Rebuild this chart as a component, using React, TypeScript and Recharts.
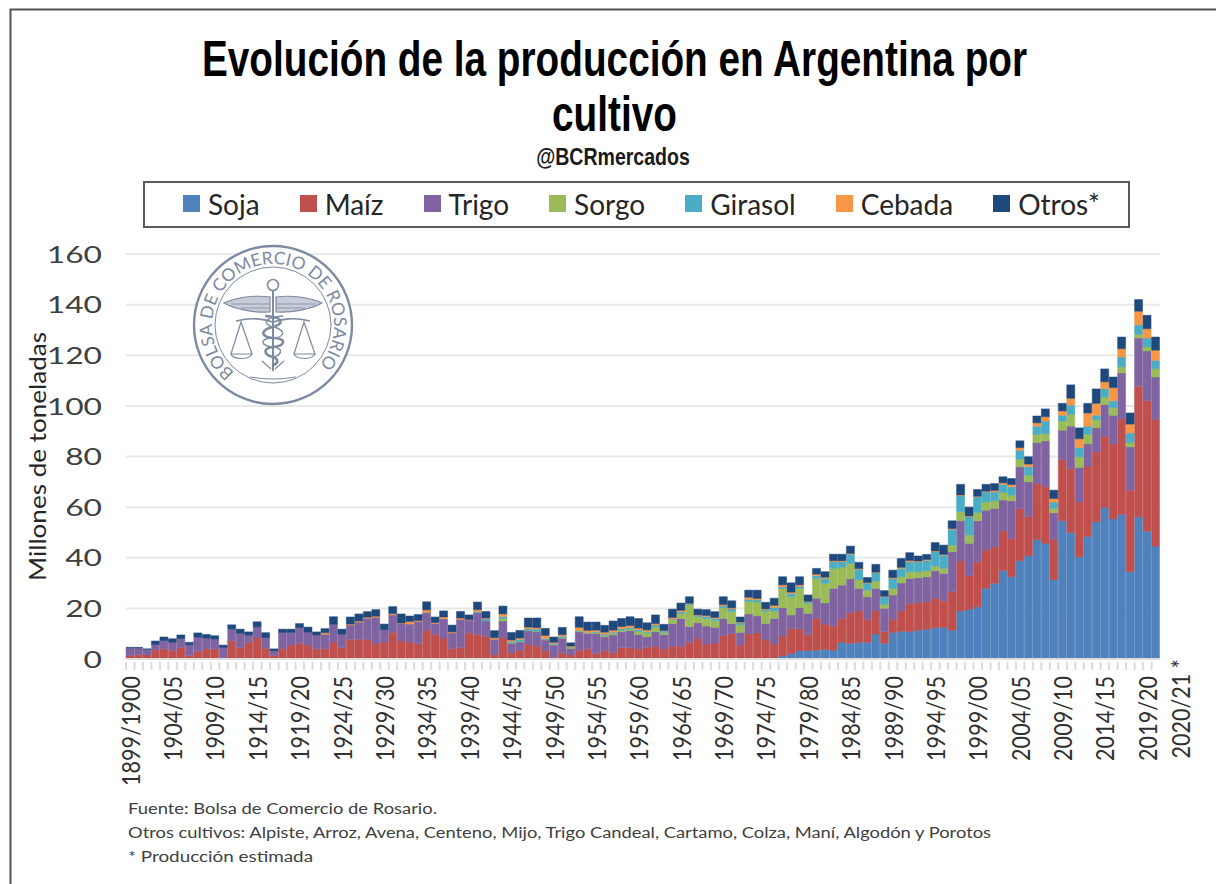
import { BarChart, Bar, XAxis, YAxis, CartesianGrid, Legend } from 'recharts'

const campaigns = [
  '1899/1900', '1900/01', '1901/02', '1902/03', '1903/04', '1904/05', '1905/06', '1906/07', '1907/08', '1908/09',
  '1909/10', '1910/11', '1911/12', '1912/13', '1913/14', '1914/15', '1915/16', '1916/17', '1917/18', '1918/19',
  '1919/20', '1920/21', '1921/22', '1922/23', '1923/24', '1924/25', '1925/26', '1926/27', '1927/28', '1928/29',
  '1929/30', '1930/31', '1931/32', '1932/33', '1933/34', '1934/35', '1935/36', '1936/37', '1937/38', '1938/39',
  '1939/40', '1940/41', '1941/42', '1942/43', '1943/44', '1944/45', '1945/46', '1946/47', '1947/48', '1948/49',
  '1949/50', '1950/51', '1951/52', '1952/53', '1953/54', '1954/55', '1955/56', '1956/57', '1957/58', '1958/59',
  '1959/60', '1960/61', '1961/62', '1962/63', '1963/64', '1964/65', '1965/66', '1966/67', '1967/68', '1968/69',
  '1969/70', '1970/71', '1971/72', '1972/73', '1973/74', '1974/75', '1975/76', '1976/77', '1977/78', '1978/79',
  '1979/80', '1980/81', '1981/82', '1982/83', '1983/84', '1984/85', '1985/86', '1986/87', '1987/88', '1988/89',
  '1989/90', '1990/91', '1991/92', '1992/93', '1993/94', '1994/95', '1995/96', '1996/97', '1997/98', '1998/99',
  '1999/00', '2000/01', '2001/02', '2002/03', '2003/04', '2004/05', '2005/06', '2006/07', '2007/08', '2008/09',
  '2009/10', '2010/11', '2011/12', '2012/13', '2013/14', '2014/15', '2015/16', '2016/17', '2017/18', '2018/19',
  '2019/20', '2020/21',
]

const tickLabels = [
  '1899/1900', '1904/05', '1909/10', '1914/15', '1919/20', '1924/25', '1929/30', '1934/35', '1939/40', '1944/45',
  '1949/50', '1954/55', '1959/60', '1964/65', '1969/70', '1974/75', '1979/80', '1984/85', '1989/90', '1994/95',
  '1999/00', '2004/05', '2009/10', '2014/15', '2019/20', '2020/21',
]

const yTicks = [0, 20, 40, 60, 80, 100, 120, 140, 160]

const soja = [
  0, 0, 0, 0, 0, 0, 0, 0, 0, 0, 0, 0, 0, 0, 0, 0, 0, 0, 0, 0,
  0, 0, 0, 0, 0, 0, 0, 0, 0, 0, 0, 0, 0, 0, 0, 0, 0, 0, 0, 0,
  0, 0, 0, 0, 0, 0, 0, 0, 0, 0, 0, 0, 0, 0, 0, 0, 0, 0, 0, 0,
  0, 0, 0, 0, 0, 0, 0, 0, 0, 0, 0, 0, 0, 0, 0, 0.3, 0.4, 1.2, 2.2, 3.3,
  3.3, 3.5, 3.8, 3.5, 6.6, 6.2, 6.6, 6.6, 9.9, 6.2,
  10.5, 11, 10.8, 11.4, 11.8, 12.4, 12.5, 11.4, 19, 19.6,
  20.6, 27.9, 29.9, 35, 32.5, 38.8, 40.8, 47.2, 45.7, 31.4,
  54.6, 50, 40.4, 48.5, 54.2, 59.9, 55.3, 57.2, 34.5, 56.2,
  50.5, 44.6,
]

const maiz = [
  1.3, 1.7, 1.6, 3.6, 4.0, 3.4, 4.6, 1.3, 3.0, 4.0,
  4.0, 0.5, 7.2, 4.5, 6.6, 8.3, 4.2, 1.3, 4.0, 5.5,
  6.0, 5.5, 4.0, 4.0, 6.7, 4.5, 7.8, 7.8, 7.8, 6.0,
  6.7, 10.5, 7.1, 6.7, 6.0, 11.4, 9.7, 8.3, 4.0, 4.6,
  10.3, 9.7, 8.8, 1.7, 8.3, 2.5, 3.4, 5.7, 5.1, 3.2,
  0.7, 2.5, 1.6, 3.4, 4.0, 2.1, 3.4, 2.5, 4.5, 4.5,
  4.0, 4.6, 5.1, 4.0, 5.0, 5.0, 6.6, 8.2, 5.9, 6.3,
  9.2, 10, 5.5, 9.9, 10.3, 7.2, 5.5, 8, 9.8, 8.7,
  6.3, 12.5, 10, 9.5, 9.4, 12.1, 12.4, 9.1, 9.1, 4.6,
  5.2, 8, 11.2, 10.8, 10.8, 11.6, 10.5, 15.2, 19.7, 13.4,
  17.8, 15.1, 14.4, 15.6, 15.1, 20.7, 15.4, 22.1, 22.3, 15.8,
  24.2, 25.3, 21.6, 27.7, 27.6, 28.1, 29.7, 37.8, 32.2, 51.6,
  51.5, 50,
]

const trigo = [
  3.1, 2.7, 2.2, 2.1, 3.3, 3.2, 3.5, 4.3, 5.7, 4.3,
  3.9, 4.0, 4.7, 5.7, 2.9, 4.4, 4.2, 1.9, 6.5, 5.0,
  6.4, 5.1, 5.5, 5.8, 7.0, 5.3, 5.7, 6.8, 8.3, 10.5,
  4.9, 6.9, 6.9, 7.1, 8.9, 7.0, 4.4, 7.6, 6.3, 11.1,
  5.1, 8.6, 6.2, 6.1, 6.7, 3.7, 3.3, 5.5, 5.7, 4.3,
  4.8, 5.7, 2.6, 7.4, 6.1, 8, 5.4, 7, 6.3, 6.7,
  5.7, 4.2, 5.7, 5.7, 9, 11, 6.2, 6.1, 7.1, 6.2,
  6.8, 4, 5, 7.9, 6.7, 6.5, 10.1, 11.1, 5.4, 8.3,
  8.4, 8, 8.4, 14.9, 13.2, 13.4, 8.9, 8.9, 8.9, 9.2,
  9.6, 11, 9.8, 9.9, 9.9, 10.9, 10.8, 15.8, 15.9, 12.7,
  16.2, 15.8, 15.2, 12.2, 14.9, 16.4, 13.8, 16.2, 18.2, 10.6,
  11.6, 16.7, 13.7, 8.8, 9.5, 12.5, 11.3, 18, 17.1, 19,
  19.7, 16.8,
]

const sorgo = [
  0, 0, 0, 0, 0, 0, 0, 0, 0, 0, 0, 0, 0, 0, 0, 0, 0, 0, 0, 0,
  0, 0, 0, 0, 0, 0, 0, 0, 0, 0, 0, 0, 0, 0, 0, 0, 0, 0, 0, 0,
  0, 0, 0, 0, 1.0, 0.2, 0.3, 0.2, 0.2, 0.2,
  0.1, 0.2, 0.3, 0.2, 0.2, 0.4, 0.4, 0.6, 0.6, 0.6,
  1.2, 1.6, 1.8, 0.8, 1.6, 2, 8.5, 2.5, 3, 2.8,
  4.2, 4.8, 3, 5, 5.5, 4.8, 3, 7.6, 7.2, 7.6,
  4, 7.8, 7.7, 7.9, 7, 6.1, 3.5, 2.6, 2.9, 1.7,
  2.6, 2.5, 2.7, 2.4, 2.4, 1.8, 2, 2.6, 3.6, 3.3,
  3.3, 3.2, 3, 3, 2.2, 3.1, 2.6, 3.2, 2.8, 1.7,
  3.6, 4.7, 4.2, 3.8, 3.3, 3, 3, 2.4, 1.7, 1.5,
  1.6, 3.3,
]

const girasol = [
  0, 0, 0, 0, 0, 0, 0, 0, 0, 0, 0, 0, 0, 0, 0, 0, 0, 0, 0, 0,
  0, 0, 0, 0, 0, 0, 0, 0, 0, 0, 0, 0, 0, 0, 0, 0, 0, 0, 0, 0,
  0, 0.4, 0.8, 0, 0.8, 0.6, 0.8, 0.6, 0.8, 0.4,
  0.5, 0.6, 0.2, 0.3, 0.2, 0.3, 0.6, 0.5, 0.6, 0.6,
  0.6, 0.5, 0.8, 0.6, 0.2, 0.6, 0.4, 0.4, 0.8, 0.7,
  0.8, 1, 0.8, 0.8, 0.8, 0.6, 1.4, 0.6, 1.2, 0.8,
  0.6, 1.1, 1.9, 2.6, 2.2, 3.6, 4, 2.8, 3.2, 2.9,
  3.9, 3.3, 3.9, 3.9, 4.1, 5.7, 5.2, 6.2, 6.3, 7.2,
  6.1, 4, 3.5, 3.2, 3.3, 3.5, 3.4, 3.3, 5, 2.5,
  2.3, 3.6, 3.6, 3.2, 1.7, 3.3, 2.7, 3.9, 3.8, 3.7,
  3.5, 3.3,
]

const cebada = [
  0, 0, 0, 0, 0, 0, 0, 0, 0, 0, 0, 0, 0, 0, 0, 0, 0, 0, 0, 0,
  0, 0, 0, 0.6, 0, 0, 0.3, 0.4, 0.4, 0.4,
  0, 0.5, 0.2, 1, 0.3, 1, 0.3, 0.7, 0.4, 0.5,
  0.2, 0.8, 0.4, 0.6, 1, 0.5, 0.5, 0.6, 0.6, 1.2,
  0.5, 0.6, 0.4, 1.2, 0.8, 0.6, 0.8, 0.8, 0.8, 0.8,
  0.7, 0.6, 0.6, 0.2, 0.6, 0.6, 0.3, 0.2, 0.4, 0.4,
  0.5, 0.4, 0.3, 0.8, 0.6, 0.4, 0.8, 0.8, 0.6, 0.6,
  0.2, 0.6, 0.5, 0.4, 0.4, 0.3, 0.3, 0.2, 0.3, 0.2,
  0.3, 0.4, 0.5, 0.3, 0.3, 0.3, 0.3, 0.3, 0.3, 0.3,
  0.3, 0.3, 0.6, 0.6, 0.9, 1, 1, 1.3, 1.7, 1.4,
  1.7, 2.7, 3.5, 5.2, 4.7, 2.7, 5.2, 3.3, 3.5, 5.4,
  3.7, 4,
]

const otros = [
  0.2, 0.2, 0.2, 1.4, 1.4, 1.4, 1.4, 1, 1.6, 1.4,
  1.3, 1, 1.6, 1.6, 1.2, 2, 2, 0.8, 1.3, 1.3,
  1.6, 2, 1.2, 1.6, 3, 2, 2.8, 2.8, 2.2, 2.6,
  2.2, 2.8, 3.6, 2.2, 2.4, 3.2, 2.2, 2.4, 2.7, 2.6,
  1.8, 3, 2.6, 2.8, 3.1, 3, 3, 3.6, 3.8, 2.8,
  2.1, 2.9, 1.3, 4.2, 3.3, 3.2, 2.7, 3.6, 3.2, 3.5,
  3.8, 2.8, 3.4, 2.4, 3.3, 2.9, 2.6, 2.3, 2.3, 2.3,
  3.1, 2.8, 2, 2.8, 3.3, 2.6, 2.8, 3.2, 3.7, 3.2,
  2.5, 2.3, 2.2, 2.6, 2.6, 2.9, 2.5, 2, 3.1, 2.2,
  3, 3.5, 3.1, 2, 2, 3.3, 3.7, 3.1, 4.2, 3.5,
  2.7, 2.7, 2.7, 2.4, 2.4, 2.7, 2.9, 2.7, 3.1, 3.3,
  3, 5.3, 4.3, 3.8, 5.7, 5.1, 4.2, 4.6, 4.4, 4.6,
  5.3, 5.2,
]

const seriesInfo = [
  { key: 'soja', name: 'Soja', color: '#4f81bd' },
  { key: 'maiz', name: 'Maíz', color: '#c0504d' },
  { key: 'trigo', name: 'Trigo', color: '#8064a2' },
  { key: 'sorgo', name: 'Sorgo', color: '#9bbb59' },
  { key: 'girasol', name: 'Girasol', color: '#4bacc6' },
  { key: 'cebada', name: 'Cebada', color: '#f79646' },
  { key: 'otros', name: 'Otros*', color: '#1f497d' },
]

const data = campaigns.map((campaign, i) => ({
  campaign,
  soja: soja[i],
  maiz: maiz[i],
  trigo: trigo[i],
  sorgo: sorgo[i],
  girasol: girasol[i],
  cebada: cebada[i],
  otros: otros[i],
}))

const SANS = 'Lato, "Noto Sans", sans-serif'
const LOGO = '#7d8aa2'

function CampaignTick({ x, y, payload }: any) {
  const label = payload.value
  const last = label === '2020/21'
  return (
    <g>
      <line x1={x - 4.2} x2={x - 4.2} y1={y + 1} y2={y + 9} stroke="#dcdcdc" strokeWidth={2} />
      {tickLabels.includes(label) && (
        <text
          transform={`translate(${x + (last ? 25 : 0)},${y + (last ? -2 : 15)}) rotate(-90) scale(1,1.12)`}
          textAnchor="end"
          dominantBaseline="central"
          fontFamily={SANS}
          fontSize={21.6}
          fill="#303030"
        >
          {last ? label + ' *' : label}
        </text>
      )}
    </g>
  )
}

function ValueTick({ x, y, payload }: any) {
  return (
    <text
      transform={`translate(${x - 16},${y}) scale(1.38,1)`}
      textAnchor="end"
      dominantBaseline="central"
      fontFamily={SANS}
      fontSize={23}
      fill="#404040"
    >
      {payload.value}
    </text>
  )
}

function LegendBox({ payload }: any) {
  return (
    <div
      style={{
        boxSizing: 'border-box',
        width: 987,
        height: 47,
        border: '2px solid #5a5a5a',
        display: 'flex',
        alignItems: 'center',
        gap: 40,
        paddingLeft: 38,
        paddingBottom: 2,
        fontFamily: SANS,
        fontSize: 28,
        color: '#262626',
        background: '#fff',
      }}
    >
      {payload.map((item: any) => (
        <div key={item.value} style={{ display: 'flex', alignItems: 'center', gap: 8 }}>
          <span style={{ width: 17, height: 17, background: item.color, display: 'block' }} />
          <span>{item.value}</span>
        </div>
      ))}
    </div>
  )
}

function Seal() {
  return (
    <g transform="translate(273,325)" fill="none" stroke={LOGO}>
      <circle r={79} fill="#fff" strokeWidth={2.4} />
      <circle r={58} strokeWidth={1} />
      <path id="seal-arc" d="M-38.4 47.4 A61 61 0 1 1 43.9 42.4" stroke="none" />
      <text fontFamily={SANS} fontSize={17.5} fill={LOGO} stroke="none">
        <textPath href="#seal-arc">BOLSA DE COMERCIO DE ROSARIO</textPath>
      </text>
      <circle cy={-40} r={5.5} strokeWidth={1.6} />
      <path d="M0 -34 V46" strokeWidth={2} />
      <path d="M-3 -28 C-18 -30 -36 -28 -49 -22 C-38 -16 -20 -12 -3 -13 Z" strokeWidth={1.2} fill="#c6ccd8" />
      <path d="M3 -28 C18 -30 36 -28 49 -22 C38 -16 20 -12 3 -13 Z" strokeWidth={1.2} fill="#c6ccd8" />
      <path d="M-42 -21 H-4 M-32 -17 H-4 M42 -21 H4 M32 -17 H4" strokeWidth={0.8} />
      <path d="M-37 -4 C-20 -8 -10 -6 0 -3 C10 -6 20 -8 37 -4" strokeWidth={1.6} />
      <path d="M-32 -3 L-42 29 H-21 Z M-42 29 C-40 35 -24 35 -21 29" strokeWidth={1.2} />
      <path d="M31 -3 L21 29 H42 Z M21 29 C24 35 39 35 42 29" strokeWidth={1.2} />
      <path
        d="M-8 -9 C12 -8 12 0 -4 3 C-14 7 -10 13 2 13 C14 14 12 21 0 22 C-11 23 -9 30 0 32 C6 34 5 38 1 40"
        strokeWidth={2.6}
      />
      <path
        d="M10 -9 C-10 -8 -12 0 4 3 C14 7 10 13 -2 13 C-14 14 -12 21 0 22 C11 23 9 30 0 32"
        strokeWidth={1.4}
      />
      <path d="M-11 36 L-2 44 M11 36 L2 44" strokeWidth={1.2} />
      <path d="M-23 52 Q0 56 23 52" strokeWidth={1} />
    </g>
  )
}

function Overlay() {
  return (
    <svg
      width={1216}
      height={884}
      style={{ position: 'absolute', left: 0, top: 0, pointerEvents: 'none' }}
    >
      <path d="M1216 9.5 H10.5 V884" fill="none" stroke="#555" strokeWidth={2} />
      <g fontFamily='"Liberation Sans", sans-serif' fontWeight="bold" fill="#000" textAnchor="middle">
        <text transform="translate(614.5,76) scale(0.775,1)" fontSize={50}>
          Evolución de la producción en Argentina por
        </text>
        <text transform="translate(614.5,131) scale(0.775,1)" fontSize={50}>
          cultivo
        </text>
        <text transform="translate(613,165) scale(0.85,1)" fontSize={23} fill="#1a1a1a">
          @BCRmercados
        </text>
      </g>
      <text
        transform="translate(37,581) rotate(-90)"
        dominantBaseline="central"
        fontFamily={SANS}
        fontSize={23}
        fill="#262626"
        textLength={249}
        lengthAdjust="spacingAndGlyphs"
      >
        Millones de toneladas
      </text>
      <g fontFamily={SANS} fontSize={15.5} fill="#404040">
        <text x={128} y={814} textLength={309} lengthAdjust="spacingAndGlyphs">
          Fuente: Bolsa de Comercio de Rosario.
        </text>
        <text x={128} y={838} textLength={863} lengthAdjust="spacingAndGlyphs">
          Otros cultivos: Alpiste, Arroz, Avena, Centeno, Mijo, Trigo Candeal, Cartamo, Colza, Maní, Algodón y Porotos
        </text>
        <text x={128} y={862} textLength={185} lengthAdjust="spacingAndGlyphs">
          * Producción estimada
        </text>
      </g>
      <Seal />
    </svg>
  )
}

export default function App() {
  return (
    <div style={{ position: 'absolute', left: 0, top: 0, width: 1216, height: 884, background: '#fff' }}>
      <BarChart
        width={1216}
        height={884}
        data={data}
        barCategoryGap={0}
        margin={{ top: 254, right: 56, bottom: 125, left: 66 }}
      >
        <CartesianGrid vertical={false} stroke="#e8e8e8" strokeWidth={2} />
        <XAxis
          dataKey="campaign"
          interval={0}
          height={100}
          tickLine={false}
          tickSize={0}
          axisLine={{ stroke: '#dcdcdc', strokeWidth: 2 }}
          tick={(p: any) => <CampaignTick {...p} />}
        />
        <YAxis
          width={60}
          domain={[0, 160]}
          ticks={yTicks}
          axisLine={false}
          tickLine={false}
          tick={(p: any) => <ValueTick {...p} />}
        />
        <Legend
          layout="horizontal"
          verticalAlign="middle"
          align="center"
          itemSorter={null}
          wrapperStyle={{ left: 143, top: 181, width: 987, height: 47 }}
          content={(p: any) => <LegendBox {...p} />}
        />
        {seriesInfo.map((s) => (
          <Bar
            key={s.key}
            dataKey={s.key}
            name={s.name}
            stackId="crops"
            fill={s.color}
            stroke={s.color}
            strokeWidth={0.5}
            isAnimationActive={false}
          />
        ))}
      </BarChart>
      <Overlay />
    </div>
  )
}
